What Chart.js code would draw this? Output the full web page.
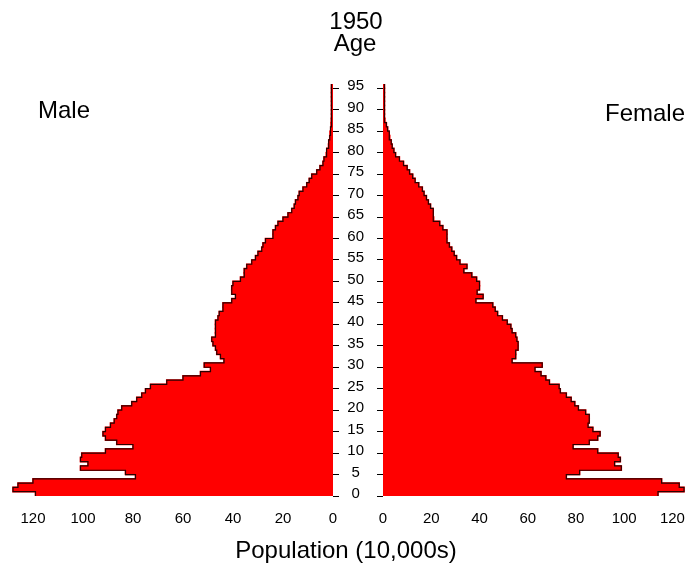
<!DOCTYPE html>
<html>
<head>
<meta charset="utf-8">
<script src="https://cdn.jsdelivr.net/npm/chart.js@4/dist/chart.umd.min.js"></script>
<style>
  body { margin: 0; background: #fff; }
  #marco { position: relative; width: 699px; height: 567px; overflow: hidden; font-family: "Liberation Sans", Arial, sans-serif; }
  canvas { position: absolute; top: 0; }
  #hombres { left: 0; }
  #mujeres { left: 340px; }
  .texto { position: absolute; color: #000; white-space: nowrap; line-height: 1; font-size: 24px; }
  .centro { transform: translateX(-50%); }
</style>
</head>
<body>
<div id="marco">
  <canvas id="hombres" width="345" height="567"></canvas>
  <canvas id="mujeres" width="359" height="567"></canvas>
  <div class="texto centro" style="left:356px; top:9px;">1950</div>
  <div class="texto centro" style="left:355px; top:31px;">Age</div>
  <div class="texto" style="left:38px; top:98px;">Male</div>
  <div class="texto" style="left:605px; top:101px;">Female</div>
  <div class="texto centro" style="left:346px; top:538px;">Population (10,000s)</div>
</div>
<script>
// Pirámide de población 1950 (10,000s por edad simple)

const edades = [
   0,  1,  2,  3,  4,  5,  6,  7,  8,  9,
  10, 11, 12, 13, 14, 15, 16, 17, 18, 19,
  20, 21, 22, 23, 24, 25, 26, 27, 28, 29,
  30, 31, 32, 33, 34, 35, 36, 37, 38, 39,
  40, 41, 42, 43, 44, 45, 46, 47, 48, 49,
  50, 51, 52, 53, 54, 55, 56, 57, 58, 59,
  60, 61, 62, 63, 64, 65, 66, 67, 68, 69,
  70, 71, 72, 73, 74, 75, 76, 77, 78, 79,
  80, 81, 82, 83, 84, 85, 86, 87, 88, 89,
  90, 91, 92, 93, 94, 95
];

const hombres = [
  119, 128, 126, 120, 79, 83, 101, 98, 101, 100.5,
  91, 80, 86.5, 91, 92, 91, 89, 87.5, 86.5, 86,
  84.5, 80.5, 78.5, 76.5, 75, 73, 66.5, 60, 53, 49,
  51.5, 43.6, 45, 46.5, 47, 48, 48.5, 47, 47, 47,
  47, 46, 45.5, 44, 44, 40.5, 39, 40.5, 40.5, 40,
  37, 35.5, 35.5, 34.5, 32.5, 31, 30, 28.5, 28, 27,
  24, 24, 23, 22, 20, 18, 16.5, 15.5, 15, 14,
  13.5, 12, 10.5, 9.5, 8.5, 6.5, 5.2, 4, 3.6, 2.7,
  2.5, 1.8, 1.7, 1.3, 1.2, 0.9, 0.8, 0.7, 0.6, 0.6,
  0.6, 0.6, 0.6, 0.6, 0.6, 0.6
];

const mujeres = [
  114, 124.8, 122.8, 115.5, 76, 81.5, 98.8, 96, 98.4, 97.5,
  89, 78.8, 85.5, 89, 90, 87, 85, 85.5, 85.5, 84,
  81, 79.5, 78, 76, 73.5, 73, 69, 67.5, 65.5, 63,
  66, 53.5, 55, 55, 56, 56, 55.5, 55, 53.5, 53,
  51.5, 49.5, 47.5, 46.5, 45.5, 38.5, 41.5, 39, 40, 40,
  38.8, 36.8, 33.5, 34.8, 31.9, 30.5, 29.5, 28.5, 27.5, 26.5,
  26.5, 26.5, 24.8, 23.5, 21, 20.8, 20.8, 19.7, 18.8, 18,
  17, 16.3, 14.8, 13.3, 12.3, 11, 10, 8.5, 6.8, 5.2,
  4.5, 3.8, 3.4, 2.8, 2.5, 1.9, 1.4, 0.8, 0.6, 0.6,
  0.6, 0.6, 0.6, 0.6, 0.6, 0.6
];

const ticksEdad = [0, 5, 10, 15, 20, 25, 30, 35, 40, 45, 50, 55, 60, 65, 70, 75, 80, 85, 90, 95];
const ticksPoblacion = [0, 20, 40, 60, 80, 100, 120];

Chart.defaults.font.family = '"Liberation Sans Narrow", "Liberation Sans", Arial, sans-serif';
Chart.defaults.font.size = 15;
Chart.defaults.color = '#000';

// ─── Crear una mitad de la pirámide ───────────────────────────────────────────
function crearPiramide(id, valores, esHombre) {
  const barras = edades.map((e, i) => ({ x: valores[i], y: e }));

  // contorno escalonado: borde exterior de cada barra
  const contorno = [];
  edades.forEach((e, i) => {
    contorno.push({ x: valores[i], y: e - 0.5 });
    contorno.push({ x: valores[i], y: e + 0.5 });
  });

  return new Chart(document.getElementById(id), {
    type: 'bar',
    data: {
      datasets: [
        {
          type: 'bar',
          indexAxis: 'y',
          data: barras,
          backgroundColor: '#ff0000',
          borderWidth: 0,
          inflateAmount: 0.8,
          barPercentage: 1,
          categoryPercentage: 1,
          order: 2
        },
        {
          type: 'line',
          indexAxis: 'y',
          data: contorno,
          borderColor: '#2a0000',
          borderWidth: 1.2,
          pointRadius: 0,
          fill: false,
          tension: 0,
          order: 1
        }
      ]
    },
    options: {
      indexAxis: 'y',
      responsive: false,
      animation: false,
      layout: {
        padding: esHombre
          ? { top: 84, left: 8, right: 0, bottom: 0 }
          : { top: 84, left: 0, right: 1, bottom: 0 }
      },
      plugins: {
        legend: { display: false },
        tooltip: { enabled: false }
      },
      scales: {
        x: {
          type: 'linear',
          position: 'bottom',
          min: 0,
          max: esHombre ? 130 : 126,
          reverse: esHombre,
          offset: false,
          afterBuildTicks: s => { s.ticks = ticksPoblacion.map(v => ({ value: v })); },
          afterFit: s => { s.height = 71; },
          grid: { display: false, drawTicks: false, offset: false },
          border: { display: false },
          ticks: { padding: 14, maxRotation: 0, autoSkip: false, color: '#000' }
        },
        y: {
          type: 'linear',
          position: esHombre ? 'right' : 'left',
          min: -0.5,
          max: 95.5,
          offset: false,
          afterBuildTicks: s => { s.ticks = ticksEdad.map(v => ({ value: v - 0.5 })); },
          afterFit: s => { s.width = esHombre ? 12 : 43; },
          grid: {
            offset: false,
            drawOnChartArea: false,
            drawTicks: true,
            tickLength: 6,
            color: '#000',
            tickColor: '#000',
            lineWidth: 1
          },
          border: { display: false },
          ticks: {
            display: !esHombre,
            autoSkip: false,
            padding: 13,
            crossAlign: 'center',
            labelOffset: -2,
            color: '#000',
            callback: v => v + 0.5
          }
        }
      }
    }
  });
}

crearPiramide('hombres', hombres, true);
crearPiramide('mujeres', mujeres, false);
</script>
</body>
</html>
